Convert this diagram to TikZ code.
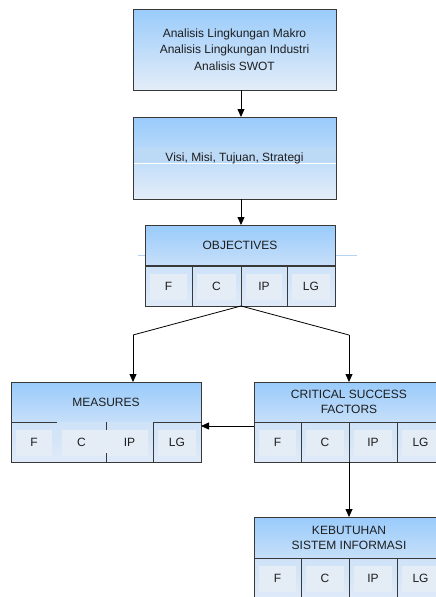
\documentclass[tikz,border=0pt]{standalone}
\usepackage{fontspec}
\setmainfont{Liberation Sans}
\usetikzlibrary{arrows.meta,calc}

\definecolor{hdtop}{HTML}{99CBFB}
\definecolor{hdbot}{HTML}{C6DFF9}
\definecolor{boxbot}{HTML}{E4EDF8}
\definecolor{bandc}{HTML}{BCD9F6}
\definecolor{celltop}{HTML}{CEE2F8}
\definecolor{cellbot}{HTML}{DFEAF8}
\definecolor{cellin}{HTML}{E4ECF6}
\definecolor{edge}{HTML}{383838}
\definecolor{ink}{HTML}{1E1E1E}
\definecolor{guide}{HTML}{B4D3F2}

\tikzset{
  every node/.style={inner sep=0pt, outer sep=0pt, text=ink,
    font=\fontsize{12}{15}\selectfont},
  panel/.style={draw=edge, line width=0.9pt, rectangle, align=center},
  bigbox/.style={panel, minimum width=203pt, minimum height=81pt,
    top color=hdtop, bottom color=boxbot},
  head/.style={panel, minimum width=190pt, minimum height=40pt,
    top color=hdtop, bottom color=hdbot, anchor=north west},
  inset/.style 2 args={path picture={
    \fill[cellin] ([xshift=#1,yshift=-8pt]path picture bounding box.north west)
      rectangle ([xshift=-#2,yshift=6pt]path picture bounding box.south east);}},
  cellbase/.style={rectangle, minimum height=40pt, anchor=north west,
    top color=celltop, bottom color=cellbot},
  cellbox/.style={cellbase, draw=edge, line width=0.9pt, inset={5pt}{5pt}},
  flow/.style={draw=black, line width=0.8pt, -{Triangle[length=8pt,width=7pt]}},
  wire/.style={draw=black, line width=0.8pt},
}

\begin{document}
\begin{tikzpicture}[x=1pt, y=-1pt]
\useasboundingbox (0,0) rectangle (436,597);
\clip (0,0) rectangle (436,597);

% top analysis box
\node[bigbox, minimum height=81pt] (analisis) at (234.5,49.5)
  {\rule{0pt}{4pt}Analisis Lingkungan Makro\\[1.5pt]Analisis Lingkungan Industri\\[1.5pt]Analisis SWOT};

% vision / mission box with its light band
\node[bigbox, minimum height=82pt,
  path picture={
    \fill[bandc] ([yshift=-31pt]path picture bounding box.north west)
      rectangle ([yshift=-46pt]path picture bounding box.north east);
    \draw[white, line width=0.8pt] ([yshift=-46pt]path picture bounding box.north west)
      -- ([yshift=-46pt]path picture bounding box.north east);}]
  (visi) at (234.5,158) {\raisebox{-8pt}{Visi, Misi, Tujuan, Strategi}};

% faint guide line behind the objectives header
\draw[guide, line width=0.7pt] (138,255) -- (357,255);

% objectives
\node[head] (obj) at (145,225) {OBJECTIVES};
\node[cellbox, minimum width=47pt] (objF)  at (145,266) {F};
\node[cellbox, minimum width=49pt] (objC)  at (192,266) {C};
\node[cellbox, minimum width=46pt] (objIP) at (241,266) {IP};
\node[cellbox, minimum width=48pt] (objLG) at (287,266) {LG};

% measures
\node[head] (meas) at (11,382) {MEASURES};
\node[cellbox, minimum width=46pt] (measF)  at (11,422) {F};
\node[cellbase, minimum width=49pt, inset={5pt}{0pt}] (measC)  at (57,422) {C};
\node[cellbase, minimum width=47pt, inset={0pt}{5pt}] (measIP) at (106,422) {IP};
\node[cellbox, minimum width=48pt] (measLG) at (153,422) {LG};
\draw[draw=edge, line width=0.9pt] (measC.south west) -- (measIP.south east);
\draw[draw=edge, line width=0.9pt] (measC.north east) -- ++(0,8);
\draw[draw=edge, line width=0.9pt] (measC.south east) -- ++(0,-9);

% critical success factors
\node[head] (csf) at (254,382) {CRITICAL SUCCESS\\FACTORS};
\node[cellbox, minimum width=47pt] (csfF)  at (254,422) {F};
\node[cellbox, minimum width=48pt] (csfC)  at (301,422) {C};
\node[cellbox, minimum width=48pt] (csfIP) at (349,422) {IP};
\node[cellbox, minimum width=47pt] (csfLG) at (397,422) {LG};

% information system needs
\node[head, minimum height=41pt] (ksi) at (254,517) {KEBUTUHAN\\SISTEM INFORMASI};
\node[cellbox, minimum width=47pt] (ksiF)  at (254,558) {F};
\node[cellbox, minimum width=48pt] (ksiC)  at (301,558) {C};
\node[cellbox, minimum width=48pt] (ksiIP) at (349,558) {IP};
\node[cellbox, minimum width=47pt] (ksiLG) at (397,558) {LG};

% connectors
\coordinate (spine) at (241,0);
\draw[flow] (analisis.south -| spine) -- (visi.north -| spine);
\draw[flow] (visi.south -| spine) -- (obj.north -| spine);
\coordinate (lbend) at (133,335);
\coordinate (rbend) at (349,335);
\draw[wire] (objC.south east) -- (lbend);
\draw[flow] (lbend) -- (lbend |- meas.north);
\draw[wire] (objC.south east) -- (rbend);
\draw[flow] (rbend) -- (rbend |- csf.north);
\draw[flow] ([yshift=-4pt]csf.south west) -- ([yshift=-4pt]meas.south east);
\draw[flow] (csfIP.south west) -- (csfIP.south west |- ksi.north);
\end{tikzpicture}
\end{document}
